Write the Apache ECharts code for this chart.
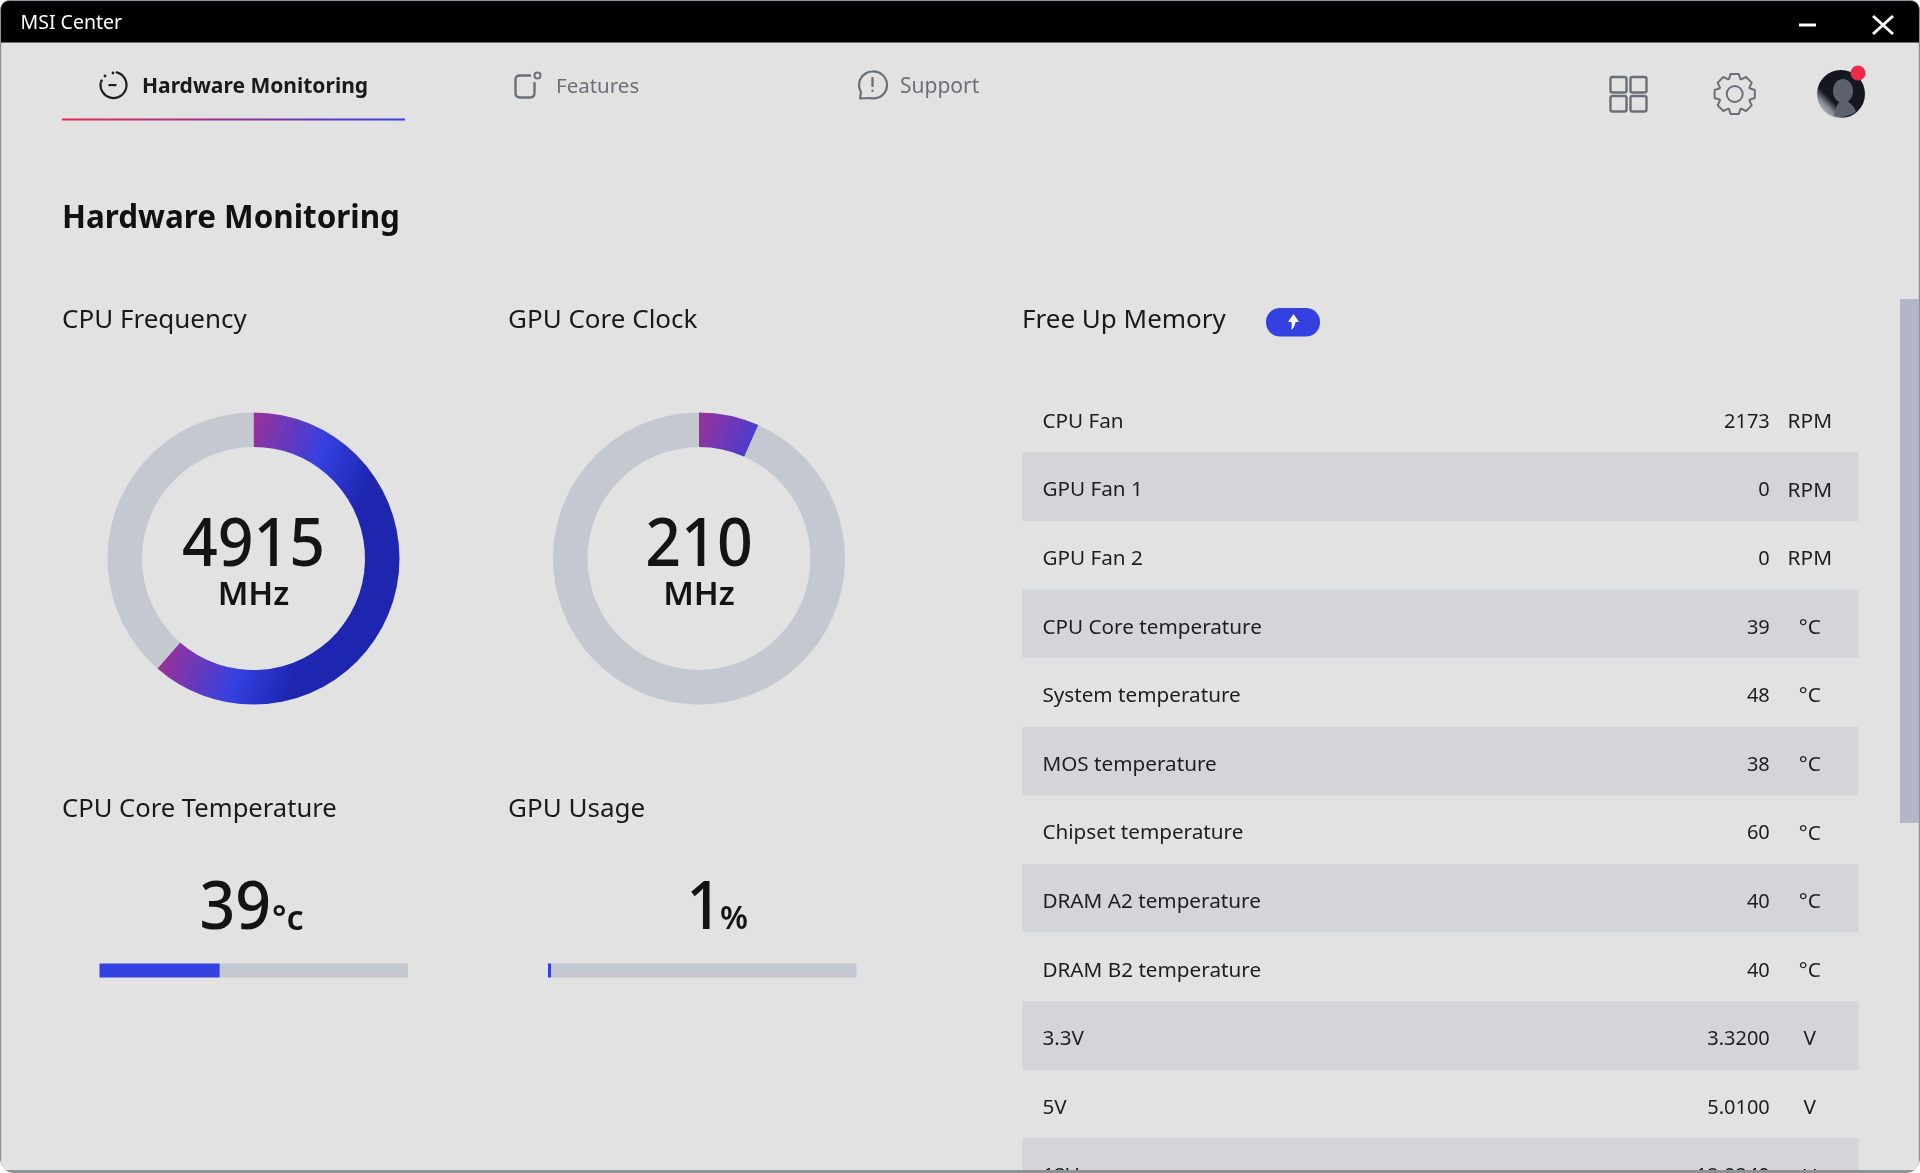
<!DOCTYPE html>
<html>
<head>
<meta charset="utf-8">
<title>MSI Center</title>
<style>
html, body { margin: 0; padding: 0; background: #fff; overflow: hidden; }
#main { width: 1920px; height: 1173px; }
</style>
<script src="https://cdn.jsdelivr.net/npm/echarts@6/dist/echarts.min.js"></script>
</head>
<body>
<div id="main"></div>
<script>
var donutNames = ['CPU Frequency', 'GPU Core Clock'];
var donutValues = [4915, 210];
var donutMax = [8000, 3150];
var donutUnit = 'MHz';

var barNames = ['CPU Core Temperature', 'GPU Usage'];
var barValues = [39, 1];
var barUnits = ['°c', '%'];
var barMax = 100;

var rowNames = ['CPU Fan', 'GPU Fan 1', 'GPU Fan 2', 'CPU Core temperature', 'System temperature',
	'MOS temperature', 'Chipset temperature', 'DRAM A2 temperature', 'DRAM B2 temperature', '3.3V', '5V', '12V'];
var rowValues = ['2173', '0', '0', '39', '48', '38', '60', '40', '40', '3.3200', '5.0100', '12.0240'];
var rowUnits = ['RPM', 'RPM', 'RPM', '°C', '°C', '°C', '°C', '°C', '°C', 'V', 'V', 'V'];

var FONT = '"Noto Sans", sans-serif';
var BLUE = '#3540e0';
var TRACK = '#c4c8d1';
var ICON = '#6b7078';
var donutX = [253.5, 699];
var donutY = 558.5;
var barLeft = [99.5, 548];
var ROW_H = 68.6;

function label(x, y, text, size, weight, color, align, scaleX) {
	return {
		type: 'text', x: x, y: y, z: 100, silent: true, scaleX: scaleX || 1,
		style: {
			text: text, fontSize: size, fontWeight: weight || 400, fontFamily: FONT,
			fill: color || '#1a1a1a', align: align || 'left', verticalAlign: 'middle'
		}
	};
}

function box(x, y, w, h, r, fill, z) {
	return {
		type: 'rect', z: z === undefined ? 100 : z, silent: true,
		shape: { x: x, y: y, width: w, height: h, r: r || 0 },
		style: { fill: fill }
	};
}

function outline(shapeType, shape, color, width) {
	return {
		type: shapeType, z: 100, silent: true, shape: shape,
		style: { fill: 'none', stroke: color, lineWidth: width || 2.2, lineCap: 'round', lineJoin: 'round' }
	};
}

// graphic has no plain path type, each svg path becomes its own registered shape
var pathCount = 0;
function svgPath(d, style, z) {
	var name = 'iconPath' + (pathCount++);
	echarts.graphic.registerShape(name, echarts.graphic.extendPath(d, {}));
	return { type: name, z: z === undefined ? 100 : z, silent: true, style: style };
}

function gearPath(cx, cy, r1, r2, teeth) {
	var d = '';
	for (var i = 0; i < teeth; i++) {
		var a = i / teeth * Math.PI * 2 - Math.PI / 2;
		var s = Math.PI / teeth;
		var pts = [[a - s * 0.95, r1], [a - s * 0.5, r2], [a + s * 0.5, r2], [a + s * 0.95, r1]];
		for (var j = 0; j < pts.length; j++) {
			var px = cx + Math.cos(pts[j][0]) * pts[j][1];
			var py = cy + Math.sin(pts[j][0]) * pts[j][1];
			d += (i === 0 && j === 0 ? 'M' : 'L') + px.toFixed(1) + ' ' + py.toFixed(1) + ' ';
		}
	}
	return d + 'Z';
}

// same slanted gradient for both rings, purple at the start of the arc
function ringColor(cx) {
	return new echarts.graphic.LinearGradient(cx, 423, cx + 120, 468.6, [
		{ offset: 0, color: '#95339a' },
		{ offset: 0.58, color: BLUE },
		{ offset: 1, color: '#1e26b0' }
	], true);
}

var series = [];
var grids = [];
var xAxes = [];
var yAxes = [];
var gfx = [];

for (var i = 0; i < donutValues.length; i++) {
	series.push({
		type: 'pie', silent: true, animation: false,
		center: [donutX[i], donutY], radius: [111.5, 146],
		startAngle: 90, clockwise: true,
		label: { show: false }, labelLine: { show: false },
		data: [
			{ name: donutNames[i], value: donutValues[i], itemStyle: { color: ringColor(donutX[i]) } },
			{ name: 'rest', value: donutMax[i] - donutValues[i], itemStyle: { color: TRACK } }
		]
	});
	gfx.push(label(donutX[i], 547, String(donutValues[i]), 68, 500, '#141414', 'center', 0.92));
	gfx.push(label(donutX[i], 596, donutUnit, 33, 600, '#141414', 'center'));
}

for (var b = 0; b < barValues.length; b++) {
	grids.push({ left: barLeft[b], top: 963.5, width: 308.5, height: 14 });
	xAxes.push({ type: 'value', gridIndex: b, min: 0, max: barMax, show: false });
	yAxes.push({ type: 'category', gridIndex: b, data: [barNames[b]], show: false });
	series.push({
		type: 'bar', silent: true, animation: false, xAxisIndex: b, yAxisIndex: b,
		barWidth: 14, stack: 'b' + b, itemStyle: { color: BLUE }, data: [barValues[b]]
	});
	series.push({
		type: 'bar', silent: true, animation: false, xAxisIndex: b, yAxisIndex: b,
		barWidth: 14, stack: 'b' + b, itemStyle: { color: TRACK }, data: [barMax - barValues[b]]
	});
}

// table: category axis gives the rows, the stripes and the three text columns
// last row runs past the window edge so outer bounds must stay off
grids.push({ left: 1022.4, top: 383.7, width: 836.4, height: ROW_H * rowNames.length, outerBoundsMode: 'none' });
var T = grids.length - 1;
xAxes.push({ type: 'value', gridIndex: T, min: 0, max: 1, show: false });
function rowAxis(position, offset, labelOpt, area) {
	return {
		type: 'category', gridIndex: T, inverse: true, data: rowNames, position: position, offset: offset,
		axisLine: { show: false }, axisTick: { show: false }, splitLine: { show: false },
		splitArea: area ? { show: true, areaStyle: { color: ['rgba(0,0,0,0)', '#d3d5d9'] } } : { show: false },
		axisLabel: Object.assign({
			interval: 0, fontSize: 20, fontFamily: FONT, color: '#1e1e1e', hideOverlap: false,
			verticalAlign: 'top', lineHeight: 8 // nudges the text 4px below the row centre
		}, labelOpt)
	};
}
yAxes.push(rowAxis('left', 0, { inside: true, margin: 20, align: 'left', fontSize: 20.7 }, true));
yAxes.push(rowAxis('right', -89, {
	margin: 0, align: 'right',
	formatter: function (v, idx) { return rowValues[idx]; }
}, false));
yAxes.push(rowAxis('right', -49, {
	margin: 0, align: 'center', fontSize: 20.8,
	formatter: function (v, idx) { return rowUnits[idx]; }
}, false));
series.push({
	type: 'bar', silent: true, animation: false, xAxisIndex: T, yAxisIndex: yAxes.length - 3,
	itemStyle: { color: 'rgba(0,0,0,0)' }, data: rowNames.map(function () { return 0; })
});

// window chrome
gfx.push({
	type: 'rect', z: -2, silent: true, shape: { x: 0.5, y: 0.5, width: 1919, height: 1172, r: 10 },
	style: { fill: '#e2e2e3', stroke: '#8f9296', lineWidth: 1.5 }
});
gfx.push(svgPath('M1 42.5 L1 10 Q1 1 10 1 L1910 1 Q1919 1 1919 10 L1919 42.5 Z', { fill: '#000' }));
gfx.push(label(20.5, 23, 'MSI Center', 19.5, 400, '#fff'));
gfx.push({ type: 'line', z: 100, silent: true, shape: { x1: 1799, y1: 25, x2: 1816, y2: 25 }, style: { stroke: '#fff', lineWidth: 3 } });
gfx.push({ type: 'line', z: 100, silent: true, shape: { x1: 1873, y1: 16, x2: 1893, y2: 34 }, style: { stroke: '#fff', lineWidth: 3 } });
gfx.push({ type: 'line', z: 100, silent: true, shape: { x1: 1893, y1: 16, x2: 1873, y2: 34 }, style: { stroke: '#fff', lineWidth: 3 } });

// bottom edge cuts the last row
gfx.push(box(0, 1170, 1920, 3, 0, '#8f9296'));
gfx.push(svgPath('M1920 1160 L1920 1173 L1907 1173 Q1918 1172 1920 1160 Z', { fill: '#fff' }, 101));
gfx.push(svgPath('M0 1160 L0 1173 L13 1173 Q2 1172 0 1160 Z', { fill: '#fff' }, 101));

// tabs
gfx.push(label(142, 87, 'Hardware Monitoring', 21, 700, '#1a1a1a'));
gfx.push(label(556, 87, 'Features', 20.5, 400, ICON));
gfx.push(label(900, 87, 'Support', 21, 400, ICON));
gfx.push({
	type: 'rect', z: 100, silent: true, shape: { x: 62, y: 118.5, width: 343, height: 2 },
	style: {
		fill: new echarts.graphic.LinearGradient(0, 0, 1, 0, [
			{ offset: 0, color: '#e8274b' }, { offset: 1, color: BLUE }
		])
	}
});
gfx.push(outline('arc', { cx: 113.5, cy: 85, r: 13, startAngle: -Math.PI * 0.42, endAngle: Math.PI * 1.05 }, '#1f1f1f', 2.2));
gfx.push(box(108.5, 84, 8, 2.2, 0, '#1f1f1f'));
gfx.push({ type: 'circle', z: 100, silent: true, shape: { cx: 113, cy: 73, r: 1.4 }, style: { fill: '#1f1f1f' } });
gfx.push({ type: 'circle', z: 100, silent: true, shape: { cx: 105, cy: 76, r: 1.4 }, style: { fill: '#1f1f1f' } });
gfx.push({ type: 'circle', z: 100, silent: true, shape: { cx: 101.5, cy: 81, r: 1.4 }, style: { fill: '#1f1f1f' } });
gfx.push(svgPath('M530 75.5 L520 75.5 Q515.5 75.5 515.5 80 L515.5 93 Q515.5 97.5 520 97.5 L530 97.5 Q534.5 97.5 534.5 93 L534.5 83',
	{ fill: 'none', stroke: ICON, lineWidth: 2.4, lineCap: 'round' }));
gfx.push(outline('circle', { cx: 537.5, cy: 75.5, r: 3 }, ICON, 2));
gfx.push(svgPath('M872.5 71.5 A13.5 13.5 0 1 1 870 98 L860 98.5 L861 92 A13.5 13.5 0 0 1 872.5 71.5 Z',
	{ fill: 'none', stroke: ICON, lineWidth: 2.2, lineJoin: 'round' }));
gfx.push(box(871.3, 77, 2.4, 10, 1, ICON));
gfx.push(box(871.3, 89.5, 2.4, 2.6, 1, ICON));

// top right icons
[[1610.5, 77], [1630.5, 77], [1610.5, 96], [1630.5, 96]].forEach(function (p) {
	gfx.push(outline('rect', { x: p[0], y: p[1], width: 16, height: 15.5, r: 2 }, ICON, 2.4));
});
gfx.push(svgPath(gearPath(1734.7, 94, 16, 20.5, 8), { fill: 'none', stroke: ICON, lineWidth: 2, lineJoin: 'round' }));
gfx.push(outline('circle', { cx: 1734.7, cy: 94, r: 8 }, ICON, 2));
gfx.push({ type: 'circle', z: 100, silent: true, shape: { cx: 1841, cy: 94, r: 24 }, style: {
	fill: new echarts.graphic.LinearGradient(0, 1, 0.75, 0.25, [
		{ offset: 0, color: '#e8e8e8' }, { offset: 0.3, color: '#858a92' }, { offset: 0.45, color: '#14171f' }, { offset: 1, color: '#14171f' }
	])
} });
gfx.push({ type: 'ellipse', z: 100, silent: true, shape: { cx: 1843, cy: 91, rx: 10, ry: 12 }, style: { fill: '#5b626d' } });
gfx.push(svgPath('M1834 116 Q1836 102 1843 100 Q1853 102 1856 112 Q1846 118 1834 116 Z', { fill: '#5b626d' }));
gfx.push({ type: 'circle', z: 100, silent: true, shape: { cx: 1858, cy: 73, r: 7.5 }, style: { fill: '#ee2a4a' } });

// headings
gfx.push(label(62, 219.5, 'Hardware Monitoring', 31.4, 700, '#111'));
gfx.push(label(62, 320.5, donutNames[0], 26, 400));
gfx.push(label(508, 320.5, donutNames[1], 26, 400));
gfx.push(label(1022, 320.5, 'Free Up Memory', 26, 400));
gfx.push(label(62, 809.5, barNames[0], 25.6, 400));
gfx.push(label(508, 809.5, barNames[1], 26, 400));

// free up button
gfx.push(box(1266, 308, 54, 28.5, 14, BLUE));
gfx.push(svgPath('M1293.5 314 L1299 322 L1295.5 322 Q1295 327 1291 330 Q1292.5 326 1291.5 322 L1288 322 Z', { fill: '#fff' }));

// big readouts under the titles
gfx.push(label(271, 910, String(barValues[0]), 68, 500, '#141414', 'right', 0.92));
gfx.push(label(272, 920, barUnits[0], 34, 600, '#141414'));
gfx.push(label(722, 910, String(barValues[1]), 68, 500, '#141414', 'right', 0.92));
gfx.push(label(720, 920, barUnits[1], 32, 600, '#141414'));

// scrollbar
gfx.push(box(1900, 299, 19, 524, 0, '#b2b6c6'));

var myChart = echarts.init(document.getElementById('main'));
var option = {
	animation: false,
	backgroundColor: '#fff',
	tooltip: { show: false },
	grid: grids,
	xAxis: xAxes,
	yAxis: yAxes,
	series: series,
	graphic: { elements: gfx }
};
myChart.setOption(option);
</script>
</body>
</html>
